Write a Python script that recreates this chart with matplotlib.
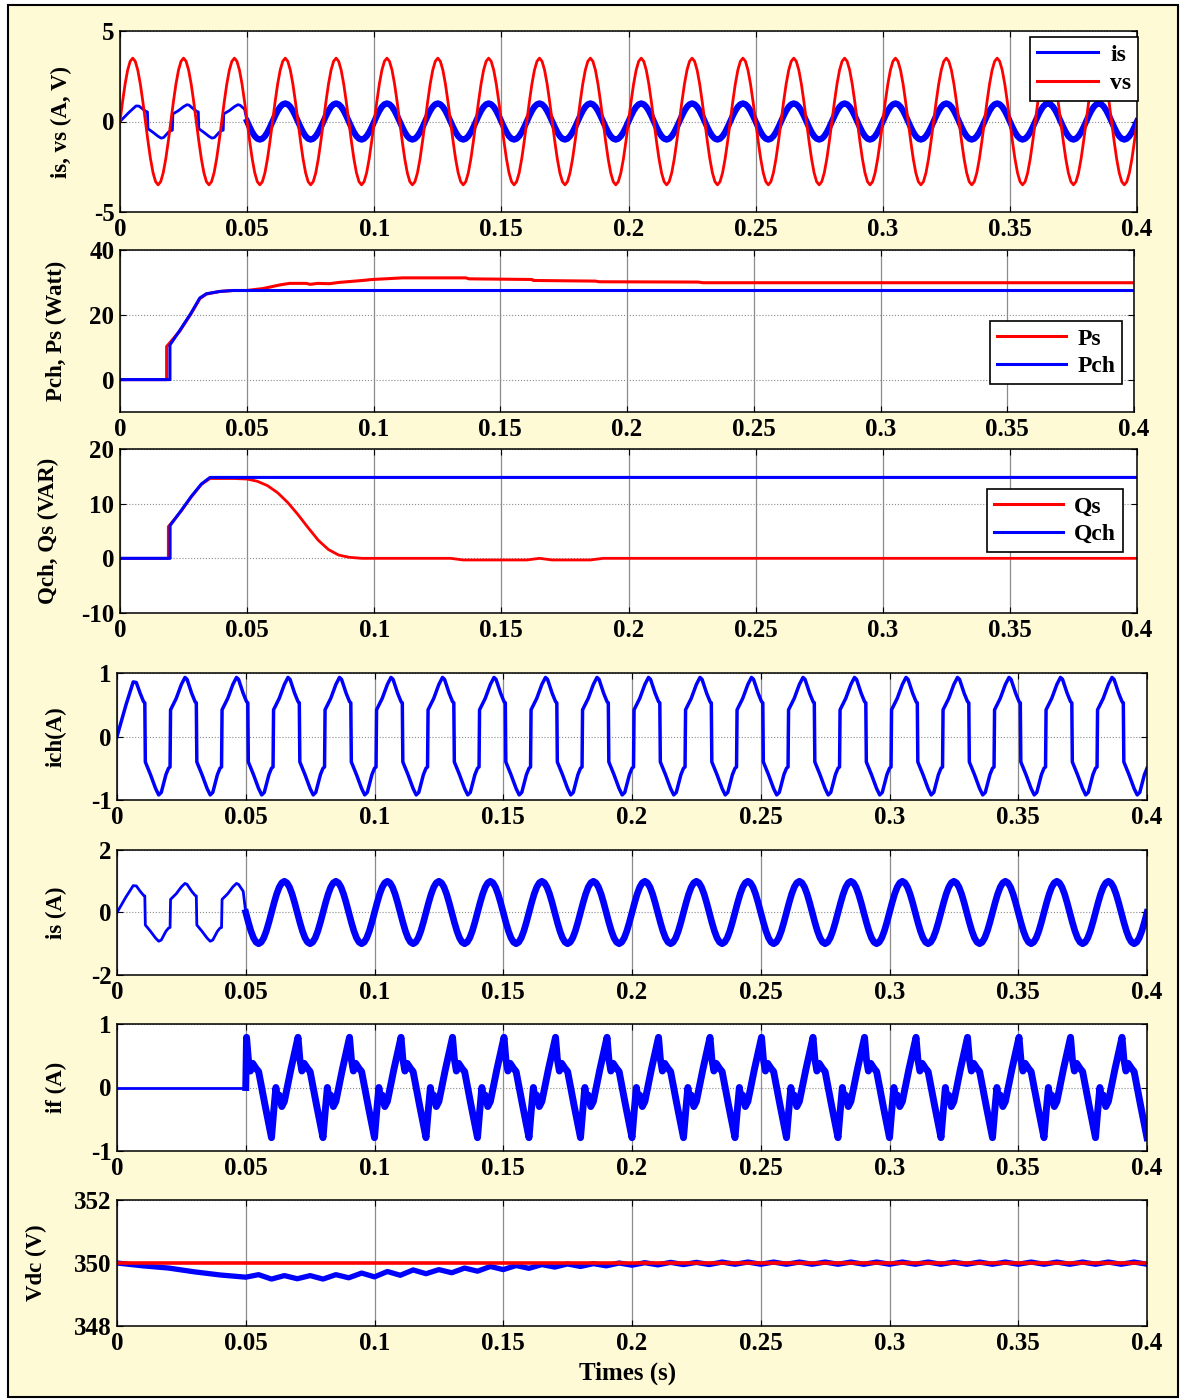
import numpy as np
import matplotlib
matplotlib.use("Agg")
import matplotlib.pyplot as plt
from matplotlib.patches import Rectangle

plt.rcParams['font.family'] = ['Liberation Serif', 'DejaVu Serif']
plt.rcParams['font.weight'] = 'bold'
plt.rcParams['axes.unicode_minus'] = False

W, H = 1181, 1400
T = 0.02          # 50 Hz period
N_CYC = 20        # cycles shown (0 .. 0.4 s)
T_END = 0.4
T_COMP = 0.05     # compensation switched on

# ---- waveform data ----
# one period of the (unit) supply sine, 20 samples
sine_cycle = [0.0, 0.31, 0.59, 0.81, 0.95, 1.0, 0.95, 0.81, 0.59, 0.31,
              0.0, -0.31, -0.59, -0.81, -0.95, -1.0, -0.95, -0.81, -0.59, -0.31]
vs_amp = 3.5
is_amp = 1.0

# load current ich: first half wave, then one repeating period
ich_first_t = [0.0, 0.0035, 0.0063, 0.0075]
ich_first_v = [0.0, 0.50, 0.86, 0.85]
ich_cyc_t = [0.0000, 0.0006, 0.0008, 0.0030, 0.0050, 0.0064, 0.0072, 0.0090, 0.0103,
             0.0108, 0.0110, 0.0130, 0.0150, 0.0162, 0.0172, 0.0190, 0.0200]
ich_cyc_v = [-0.50, -0.48, 0.42, 0.60, 0.82, 0.93, 0.90, 0.68, 0.55,
             0.53, -0.40, -0.60, -0.82, -0.92, -0.88, -0.60, -0.50]

# filter current if: one repeating period (after 0.05 s)
if_cyc_t = [0.0000, 0.0008, 0.0017, 0.0022, 0.0030, 0.0040, 0.0050, 0.0075, 0.0103,
            0.0110, 0.0118, 0.0127, 0.0140, 0.0150, 0.0175, 0.0200]
if_cyc_v = [-0.79, -0.40, 0.00, -0.15, -0.12, -0.30, -0.22, 0.28, 0.79,
            0.45, 0.26, 0.38, 0.30, 0.25, -0.28, -0.79]

# active power
pch_t = [0, 0.0197, 0.0197, 0.0236, 0.0280, 0.0315, 0.0341, 0.0393, 0.0445, 0.4]
pch_v = [0, 0, 10.7, 15.2, 20.5, 25.2, 26.5, 27.2, 27.5, 27.5]
ps_t = [0, 0.0184, 0.0184, 0.0236, 0.0280, 0.0315, 0.0341, 0.0393, 0.0445, 0.0500,
        0.0564, 0.0629, 0.0669, 0.0734, 0.0750, 0.0780, 0.0826, 0.0865, 0.0957, 0.0996,
        0.1115, 0.1364, 0.1377, 0.1626, 0.1630, 0.1875, 0.1890, 0.2281, 0.2300, 0.4]
ps_v = [0, 0, 10.2, 15.0, 20.3, 25.0, 26.4, 27.2, 27.5, 27.5,
        28.1, 29.2, 29.7, 29.7, 29.4, 29.7, 29.6, 30.0, 30.6, 30.9,
        31.4, 31.4, 31.1, 30.9, 30.6, 30.4, 30.2, 30.1, 29.9, 29.9]

# reactive power
qch_t = [0, 0.0197, 0.0197, 0.0240, 0.0280, 0.0320, 0.0354, 0.4]
qch_v = [0, 0, 6.0, 8.7, 11.3, 13.6, 14.8, 14.8]
qs_t = [0, 0.0190, 0.0190, 0.0240, 0.0280, 0.0320, 0.0354, 0.0450, 0.0500, 0.0540,
        0.0580, 0.0620, 0.0660, 0.0700, 0.0740, 0.0780, 0.0820, 0.0860, 0.0900, 0.0950,
        0.1300, 0.1350, 0.1600, 0.1650, 0.1700, 0.1750, 0.1850, 0.1900, 0.4]
qs_v = [0, 0, 5.8, 8.6, 11.2, 13.5, 14.6, 14.6, 14.5, 14.1,
        13.3, 12.0, 10.2, 8.0, 5.6, 3.3, 1.6, 0.6, 0.2, 0.0,
        0.0, -0.3, -0.3, 0.0, -0.3, -0.3, -0.3, 0.0, 0.0]

# dc link voltage: start-up sag, then 100 Hz ripple peaks / dips
vdc_ref = 350.0
vdc_pre_t = [0.0, 0.01, 0.02, 0.03, 0.04, 0.05]
vdc_pre_v = [350.0, 349.91, 349.84, 349.72, 349.62, 349.55]
vdc_peaks = [349.63, 349.60, 349.60, 349.63, 349.68, 349.73, 349.78, 349.79, 349.84, 349.89,
             349.92, 349.95, 349.97, 349.98, 350.00, 350.01, 350.02, 350.02, 350.03, 350.03,
             350.03, 350.03, 350.03, 350.03, 350.03, 350.03, 350.03, 350.03, 350.03, 350.03,
             350.03, 350.03, 350.03, 350.03, 350.03]
vdc_dips = [349.49, 349.50, 349.49, 349.53, 349.56, 349.61, 349.66, 349.69, 349.74, 349.79,
            349.83, 349.87, 349.89, 349.91, 349.93, 349.94, 349.95, 349.95, 349.96, 349.96,
            349.96, 349.96, 349.96, 349.96, 349.96, 349.96, 349.96, 349.96, 349.96, 349.96,
            349.96, 349.96, 349.96, 349.96, 349.96]

xticks = [0, 0.05, 0.1, 0.15, 0.2, 0.25, 0.3, 0.35, 0.4]
xtick_labels = ['0', '0.05', '0.1', '0.15', '0.2', '0.25', '0.3', '0.35', '0.4']


def tile(cyc_t, cyc_v, k0, k1):
    t, v = [], []
    for k in range(k0, k1):
        t += [k * T + c for c in cyc_t[:-1]]
        v += list(cyc_v[:-1])
    t.append(k1 * T + cyc_t[-1] - T)
    v.append(cyc_v[-1])
    return np.array(t), np.array(v)


# supply voltage and sinusoidal source current
n_s = len(sine_cycle)
sin_t = np.array([k * T + j * T / n_s for k in range(N_CYC) for j in range(n_s)] + [T_END])
sin_v = np.array(sine_cycle * N_CYC + [sine_cycle[0]])
vs_t, vs_v = sin_t, vs_amp * sin_v

# load current
c_t, c_v = tile(ich_cyc_t, ich_cyc_v, 0, N_CYC)
keep = c_t > 0.0085
ich_t = np.concatenate([ich_first_t, c_t[keep]])
ich_v = np.concatenate([ich_first_v, c_v[keep]])

# source current: load current before compensation, sinusoid after
pre = ich_t < T_COMP
post = sin_t >= T_COMP
is_pre_t = np.append(ich_t[pre], T_COMP)
is_pre_v = np.append(ich_v[pre], 0.0)
is_post_t = sin_t[post]
is_post_v = is_amp * sin_v[post]

# filter current
f_t, f_v = tile(if_cyc_t, if_cyc_v, 2, N_CYC)
on = f_t > T_COMP
if_pre_t = [0.0, T_COMP]
if_pre_v = [0.0, 0.0]
if_post_t = np.concatenate([[T_COMP], f_t[on]])
if_post_v = np.concatenate([[0.0], f_v[on]])

# dc voltage
rip_t, rip_v = [], []
for k in range(len(vdc_peaks)):
    rip_t += [0.055 + 0.01 * k, 0.06 + 0.01 * k]
    rip_v += [vdc_peaks[k], vdc_dips[k]]
vdc_t = np.array(vdc_pre_t + rip_t)
vdc_v = np.array(vdc_pre_v + rip_v)

# ---- figure ----
BLUE = '#0000FF'
RED = '#FF0000'
CREAM = '#FFFAD6'

fig = plt.figure(figsize=(W / 100, H / 100), dpi=100, facecolor='white')
frame = Rectangle((8 / W, 1 - 1397 / H), 1170 / W, 1392 / H,
                  transform=fig.transFigure, facecolor=CREAM,
                  edgecolor='black', lw=1.5, zorder=-10)
fig.patches.append(frame)


def make_ax(l, r, t, b, ylim, yticks, ylabel, label_x):
    ax = fig.add_axes([l / W, 1 - b / H, (r - l) / W, (b - t) / H])
    ax.set_xlim(0, T_END)
    ax.set_ylim(*ylim)
    ax.set_xticks(xticks)
    ax.set_xticklabels(xtick_labels)
    ax.set_yticks(yticks)
    ax.set_yticklabels([str(y) for y in yticks])
    ax.tick_params(direction='in', top=True, right=True, length=4, width=0.8,
                   labelsize=18, pad=4)
    ax.xaxis.grid(True, color='#8c8c8c', lw=0.9, ls='-')
    ax.yaxis.grid(True, color='#8c8c8c', lw=0.8, ls=':')
    ax.set_axisbelow(True)
    for s in ax.spines.values():
        s.set_linewidth(1.1)
    ax.set_ylabel(ylabel, fontsize=16.5, fontweight='bold')
    ax.yaxis.set_label_coords((label_x - l) / (r - l), 0.5)
    return ax


def legend(ax, x0, y0, handlelength, spacing):
    lg = ax.legend(loc='upper left', bbox_to_anchor=(x0 / W, 1 - y0 / H),
                   bbox_transform=fig.transFigure, fancybox=False, framealpha=1,
                   edgecolor='black', fontsize=17, handlelength=handlelength,
                   labelspacing=spacing, borderpad=0.3, handletextpad=0.5,
                   borderaxespad=0)
    lg.get_frame().set_linewidth(1.2)
    for ln in lg.get_lines():
        ln.set_linewidth(2.2)
    return lg


# 1: is, vs
ax1 = make_ax(120, 1137, 31, 212, (-5, 5), [-5, 0, 5], 'is, vs (A, V)', 72)
ax1.plot(is_pre_t, is_pre_v, color=BLUE, lw=2.0)
ax1.plot(is_post_t, is_post_v, color=BLUE, lw=4.5, label='is')
ax1.plot(vs_t, vs_v, color=RED, lw=2.0, label='vs')
legend(ax1, 1030, 37, 2.6, 0.3)

# 2: active power
ax2 = make_ax(120, 1134, 250, 412, (-10, 40), [0, 20, 40], 'Pch, Ps (Watt)', 67)
ax2.plot(ps_t, ps_v, color=RED, lw=2.2, label='Ps')
ax2.plot(pch_t, pch_v, color=BLUE, lw=2.2, label='Pch')
legend(ax2, 990, 321, 2.9, 0.25)

# 3: reactive power
ax3 = make_ax(120, 1137, 449, 613, (-10, 20), [-10, 0, 10, 20], 'Qch, Qs (VAR)', 59)
ax3.plot(qs_t, qs_v, color=RED, lw=2.0, label='Qs')
ax3.plot(qch_t, qch_v, color=BLUE, lw=2.2, label='Qch')
legend(ax3, 987, 489, 2.9, 0.25)

# 4: load current
ax4 = make_ax(117, 1147, 673, 800, (-1, 1), [-1, 0, 1], 'ich(A)', 67)
ax4.plot(ich_t, ich_v, color=BLUE, lw=2.5)

# 5: source current
ax5 = make_ax(117, 1147, 850, 975, (-2, 2), [-2, 0, 2], 'is (A)', 67)
ax5.plot(is_pre_t, is_pre_v, color=BLUE, lw=2.0)
ax5.plot(is_post_t, is_post_v, color=BLUE, lw=4.8)

# 6: filter current
ax6 = make_ax(117, 1147, 1024, 1151, (-1, 1), [-1, 0, 1], 'if (A)', 67)
ax6.plot(if_pre_t, if_pre_v, color=BLUE, lw=2.0)
ax6.plot(if_post_t, if_post_v, color=BLUE, lw=5.0)

# 7: dc voltage
ax7 = make_ax(117, 1147, 1200, 1326, (348, 352), [348, 350, 352], 'Vdc (V)', 47)
ax7.plot(vdc_t, vdc_v, color=BLUE, lw=3.8)
ax7.plot([0, T_END], [vdc_ref, vdc_ref], color=RED, lw=2.6)

fig.text(628 / W, 1 - 1373 / H, 'Times (s)', ha='center', va='center',
         fontsize=18, fontweight='bold')

fig.savefig('out.png', dpi=100, facecolor='white')
